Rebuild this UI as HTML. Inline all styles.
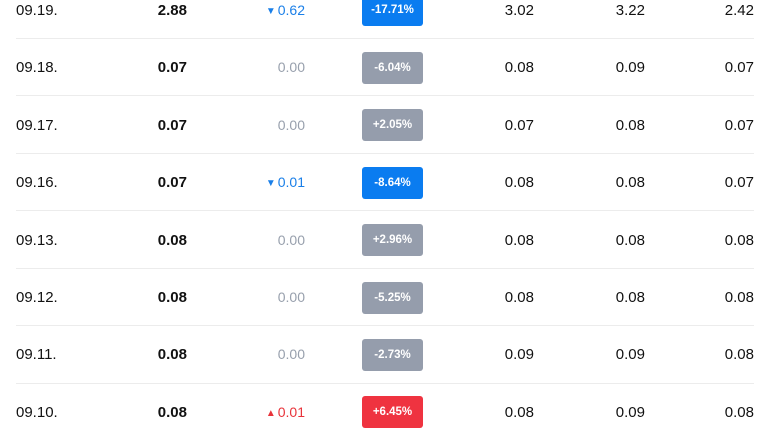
<!DOCTYPE html>
<html><head><style>
body{margin:0;width:773px;height:437px;overflow:hidden;background:#fff;font-family:"Liberation Sans",Arial,sans-serif;position:relative}
.r{position:absolute;left:0;width:773px;height:57px}
.r span{position:absolute;top:0;line-height:57px;font-size:15px;color:#111}
.d{left:16px}
.p{right:586px;font-weight:bold}
.c{right:468px;font-size:14px!important;color:#98a0ad!important}
.c.dn{color:#1a7fe8!important}.c.up{color:#e8333a!important}
.c i{font-style:normal;font-size:10px;vertical-align:1px;margin-right:2px}
.b{left:362px;width:61px;height:32px;top:12.5px!important;line-height:32px!important;border-radius:3px;color:#fff!important;font-size:11.5px!important;font-weight:bold;text-align:center}
.g{background:#959dac}.bl{background:#0a7cf0}.rd{background:#ef3340}
.o{right:239px}.h{right:128px}.l{right:19px}
.s{position:absolute;left:16px;width:738px;height:1px;background:#ececec}
</style></head><body>
<div class="r" style="top:-18.5px"><span class="d">09.19.</span><span class="p">2.88</span><span class="c dn"><i>▼</i>0.62</span><span class="b bl">-17.71%</span><span class="o">3.02</span><span class="h">3.22</span><span class="l">2.42</span></div>
<div class="s" style="top:38px"></div>
<div class="r" style="top:39px"><span class="d">09.18.</span><span class="p">0.07</span><span class="c">0.00</span><span class="b g">-6.04%</span><span class="o">0.08</span><span class="h">0.09</span><span class="l">0.07</span></div>
<div class="s" style="top:95px"></div>
<div class="r" style="top:96.5px"><span class="d">09.17.</span><span class="p">0.07</span><span class="c">0.00</span><span class="b g">+2.05%</span><span class="o">0.07</span><span class="h">0.08</span><span class="l">0.07</span></div>
<div class="s" style="top:153px"></div>
<div class="r" style="top:154px"><span class="d">09.16.</span><span class="p">0.07</span><span class="c dn"><i>▼</i>0.01</span><span class="b bl">-8.64%</span><span class="o">0.08</span><span class="h">0.08</span><span class="l">0.07</span></div>
<div class="s" style="top:210px"></div>
<div class="r" style="top:211.5px"><span class="d">09.13.</span><span class="p">0.08</span><span class="c">0.00</span><span class="b g">+2.96%</span><span class="o">0.08</span><span class="h">0.08</span><span class="l">0.08</span></div>
<div class="s" style="top:268px"></div>
<div class="r" style="top:269px"><span class="d">09.12.</span><span class="p">0.08</span><span class="c">0.00</span><span class="b g">-5.25%</span><span class="o">0.08</span><span class="h">0.08</span><span class="l">0.08</span></div>
<div class="s" style="top:325px"></div>
<div class="r" style="top:326px"><span class="d">09.11.</span><span class="p">0.08</span><span class="c">0.00</span><span class="b g">-2.73%</span><span class="o">0.09</span><span class="h">0.09</span><span class="l">0.08</span></div>
<div class="s" style="top:383px"></div>
<div class="r" style="top:383.5px"><span class="d">09.10.</span><span class="p">0.08</span><span class="c up"><i>▲</i>0.01</span><span class="b rd">+6.45%</span><span class="o">0.08</span><span class="h">0.09</span><span class="l">0.08</span></div>
</body></html>
